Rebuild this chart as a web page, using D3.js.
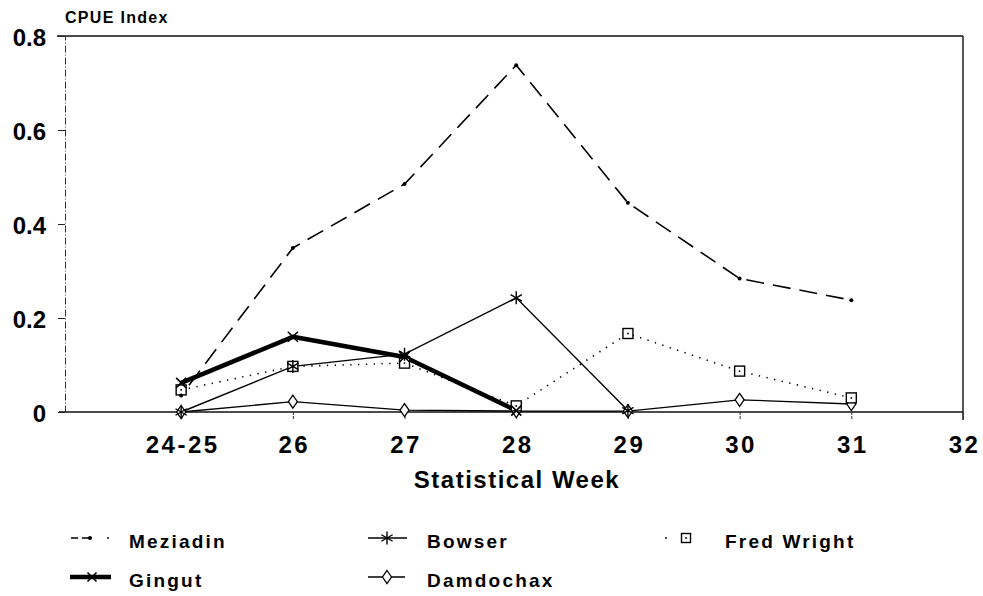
<!DOCTYPE html>
<html>
<head>
<meta charset="utf-8">
<script src="https://cdn.jsdelivr.net/npm/d3@7"></script>
<style>
  html, body { margin: 0; padding: 0; background: #fff; }
  svg { display: block; font-family: "Liberation Sans", Arial, Helvetica, sans-serif; font-weight: bold; }
</style>
</head>
<body>
<svg id="chart" width="983" height="596"></svg>
<script>
// ---- Data ----
const weeks = ["24-25", "26", "27", "28", "29", "30", "31", "32"];
const yTicks = [0, 0.2, 0.4, 0.6, 0.8];
const seriesNames = ["Meziadin", "Bowser", "Fred Wright", "Gingut", "Damdochax"];
const meziadin   = [0.035, 0.349, 0.485, 0.738, 0.445, 0.284, 0.238];
const bowser     = [0.0, 0.097, 0.123, 0.243, 0.003];
const fredWright = [0.047, 0.097, 0.104, 0.013, 0.167, 0.087, 0.030];
const gingut     = [0.062, 0.160, 0.117, 0.003];
const damdochax  = [0.0, 0.022, 0.004, 0.002, 0.002, 0.026, 0.017];

const svg = d3.select("#chart");
const x = d3.scaleLinear().domain([-1.04, 7]).range([65, 963]);
const y = d3.scaleLinear().domain([0, 0.8]).range([412, 36]);

// ---- Frame ----
svg.append("line").attr("x1", 57).attr("x2", x(7)).attr("y1", y(0.8)).attr("y2", y(0.8))
  .attr("stroke", "#111").attr("stroke-width", 1.6);
svg.append("line").attr("x1", x(7)).attr("x2", x(7)).attr("y1", y(0.8)).attr("y2", y(0) + 8)
  .attr("stroke", "#111").attr("stroke-width", 1.4);
svg.append("line").attr("x1", 59).attr("x2", x(7)).attr("y1", y(0)).attr("y2", y(0))
  .attr("stroke", "#111").attr("stroke-width", 1.4);

// ---- Y axis ----
const yAxis = svg.append("g").attr("transform", `translate(${x(-1.04)},0)`)
  .call(d3.axisLeft(y).tickValues(yTicks).tickSize(7).tickPadding(12).tickSizeOuter(0)
    .tickFormat(d => d === 0 ? "0" : d3.format(".1f")(d)));
yAxis.select(".domain").attr("stroke", "#333").attr("stroke-width", 1).attr("stroke-dasharray", "7,2,1,2");
yAxis.selectAll(".tick line").attr("stroke", "#222");
yAxis.selectAll(".tick text").attr("font-size", 24).attr("fill", "#000")
  .attr("font-family", "Liberation Sans, Arial, sans-serif").attr("font-weight", "bold")
  .attr("dy", "0.4em");

// ---- X axis ----
const xAxis = svg.append("g").attr("transform", `translate(0,${y(0)})`)
  .call(d3.axisBottom(x).tickValues(d3.range(weeks.length)).tickSize(7).tickPadding(17).tickSizeOuter(0)
    .tickFormat(i => weeks[i]));
xAxis.select(".domain").remove();
xAxis.selectAll(".tick line").attr("stroke", "#333").attr("stroke-dasharray", "3,1");
xAxis.selectAll(".tick text").attr("font-size", 24).attr("fill", "#000")
  .attr("font-family", "Liberation Sans, Arial, sans-serif").attr("font-weight", "bold")
  .attr("letter-spacing", "2.5px").attr("dx", "1px");

// ---- Titles ----
svg.append("text").attr("x", 65).attr("y", 23).attr("font-size", 16).attr("letter-spacing", "1.3px")
  .text("CPUE Index");
svg.append("text").attr("x", 517).attr("y", 488).attr("text-anchor", "middle")
  .attr("font-size", 24).attr("letter-spacing", "1.5px").text("Statistical Week");

// ---- Marker shapes ----
function asterisk(g, cx, cy, r) {
  const p = d3.path();
  p.moveTo(cx, cy - r); p.lineTo(cx, cy + r);
  const dx = r * Math.cos(Math.PI / 6), dy = r * Math.sin(Math.PI / 6);
  p.moveTo(cx - dx, cy - dy); p.lineTo(cx + dx, cy + dy);
  p.moveTo(cx - dx, cy + dy); p.lineTo(cx + dx, cy - dy);
  g.append("path").attr("d", p.toString()).attr("stroke", "#000").attr("stroke-width", 1.4).attr("fill", "none");
}
function cross(g, cx, cy, r) {
  const p = d3.path();
  p.moveTo(cx - r, cy - r); p.lineTo(cx + r, cy + r);
  p.moveTo(cx - r, cy + r); p.lineTo(cx + r, cy - r);
  g.append("path").attr("d", p.toString()).attr("stroke", "#000").attr("stroke-width", 1.6).attr("fill", "none");
}
function square(g, cx, cy, r) {
  g.append("rect").attr("x", cx - r).attr("y", cy - r).attr("width", 2 * r).attr("height", 2 * r)
    .attr("fill", "#fff").attr("stroke", "#000").attr("stroke-width", 1.4);
  g.append("circle").attr("cx", cx).attr("cy", cy).attr("r", 0.9).attr("fill", "#000");
}
function diamond(g, cx, cy, w, h) {
  const p = d3.path();
  p.moveTo(cx, cy - h); p.lineTo(cx + w, cy); p.lineTo(cx, cy + h); p.lineTo(cx - w, cy); p.closePath();
  g.append("path").attr("d", p.toString()).attr("fill", "#fff").attr("stroke", "#000").attr("stroke-width", 1.3);
}
function dot(g, cx, cy, r) {
  g.append("circle").attr("cx", cx).attr("cy", cy).attr("r", r).attr("fill", "#000");
}

const line = d3.line().x((d, i) => x(i)).y(d => y(d));
const plot = svg.append("g");

// Damdochax
plot.append("path").datum(damdochax).attr("d", line).attr("fill", "none")
  .attr("stroke", "#000").attr("stroke-width", 1.3);
// Fred Wright
plot.append("path").datum(fredWright).attr("d", line).attr("fill", "none")
  .attr("stroke", "#000").attr("stroke-width", 1.6).attr("stroke-dasharray", "1.3,6.5");
// Bowser
plot.append("path").datum(bowser).attr("d", line).attr("fill", "none")
  .attr("stroke", "#000").attr("stroke-width", 1.4);
// Gingut
plot.append("path").datum(gingut).attr("d", line).attr("fill", "none")
  .attr("stroke", "#000").attr("stroke-width", 4.5).attr("stroke-linejoin", "round");
// Meziadin
plot.append("path").datum(meziadin).attr("d", line).attr("fill", "none")
  .attr("stroke", "#000").attr("stroke-width", 1.6).attr("stroke-dasharray", "18,9").attr("stroke-dashoffset", 14);

damdochax.forEach((d, i) => diamond(plot, x(i), y(d), 4.5, 6.5));
fredWright.forEach((d, i) => square(plot, x(i), y(d), 5));
bowser.forEach((d, i) => asterisk(plot, x(i), y(d), 6.5));
gingut.forEach((d, i) => cross(plot, x(i), y(d), 5));
meziadin.forEach((d, i) => dot(plot, x(i), y(d), 2));

// ---- Legend ----
const leg = svg.append("g");
const legItems = [
  { name: seriesNames[0], tx: 129, ly: 538 },
  { name: seriesNames[1], tx: 427, ly: 538 },
  { name: seriesNames[2], tx: 725, ly: 538 },
  { name: seriesNames[3], tx: 129, ly: 577 },
  { name: seriesNames[4], tx: 427, ly: 577 }
];
legItems.forEach(it => {
  leg.append("text").attr("x", it.tx).attr("y", it.ly + 10).attr("font-size", 19)
    .attr("letter-spacing", "2.2px").text(it.name);
});
// Meziadin sample
leg.append("line").attr("x1", 71).attr("x2", 93).attr("y1", 538).attr("y2", 538)
  .attr("stroke", "#000").attr("stroke-width", 1.3).attr("stroke-dasharray", "7,4");
dot(leg, 90, 538, 2); dot(leg, 108, 538, 0.9);
// Bowser sample
leg.append("line").attr("x1", 368).attr("x2", 407).attr("y1", 538).attr("y2", 538)
  .attr("stroke", "#000").attr("stroke-width", 1.3);
asterisk(leg, 387, 538, 6.5);
// Fred Wright sample
dot(leg, 666, 538, 0.9);
square(leg, 686, 538, 4.5);
// Gingut sample
leg.append("line").attr("x1", 70).attr("x2", 111).attr("y1", 577).attr("y2", 577)
  .attr("stroke", "#000").attr("stroke-width", 4.5);
cross(leg, 92, 577, 4.5);
// Damdochax sample
leg.append("line").attr("x1", 368).attr("x2", 405).attr("y1", 577).attr("y2", 577)
  .attr("stroke", "#000").attr("stroke-width", 1.3);
diamond(leg, 387, 577, 4.5, 6.5);
</script>
</body>
</html>
